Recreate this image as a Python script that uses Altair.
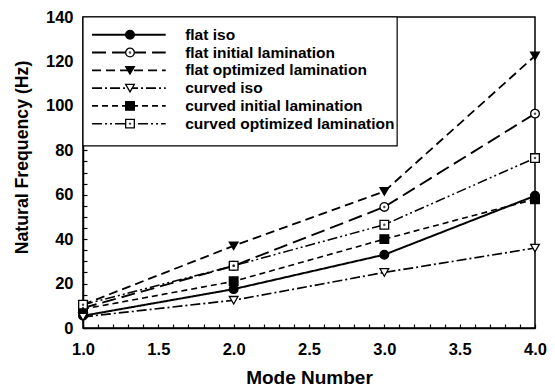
import altair as alt
import pandas as pd

# ---- data ----
modes = [1.0, 2.0, 3.0, 4.0]
series_names = [
    "flat iso",
    "flat initial lamination",
    "flat optimized lamination",
    "curved iso",
    "curved initial lamination",
    "curved optimized lamination",
]
flat_iso = [5.5, 17.5, 33.0, 59.5]
flat_initial = [9.0, 28.0, 54.5, 96.5]
flat_optimized = [10.5, 37.0, 61.5, 122.5]
curved_iso = [5.0, 12.5, 25.0, 36.0]
curved_initial = [8.5, 21.0, 40.0, 58.0]
curved_optimized = [10.5, 28.0, 46.5, 76.5]
y_ticks = [0, 20, 40, 60, 80, 100, 120, 140]
x_ticks = [1.0, 1.5, 2.0, 2.5, 3.0, 3.5, 4.0]
x_minor = [round(1.0 + 0.1 * i, 1) for i in range(31)]
y_minor = [5 * i for i in range(29)]

values = [flat_iso, flat_initial, flat_optimized, curved_iso, curved_initial, curved_optimized]

# ---- styles ----
dashes = [[1, 0], [14, 6], [9, 5], [10, 3, 2, 3], [6, 4], [10, 3, 2, 3, 2, 3]]
shapes = ["circle", "circle", "triangle-down", "triangle-down", "square", "square"]
fills = ["black", "white", "black", "white", "black", "white"]
dotted = [False, True, False, False, False, True]
widths = [2, 1.5, 2, 1.5, 1.5, 1.5]

rows = []
for name, vals in zip(series_names, values):
    for m, v in zip(modes, vals):
        rows.append({"series": name, "mode": m, "freq": v})
df = pd.DataFrame(rows)
df_dot = df[df["series"].isin([n for n, d in zip(series_names, dotted) if d])]

leg = pd.DataFrame({
    "series": series_names,
    "row": list(range(1, len(series_names) + 1)),
})
leg["x0"] = 0.02
leg["x1"] = 0.183
leg["xm"] = 0.104
leg["xt"] = 0.226
leg_dot = leg[leg["series"].isin([n for n, d in zip(series_names, dotted) if d])]
box = pd.DataFrame({"bx0": [0.0], "bx1": [0.695], "by0": [0.0], "by1": [7.25]})

FONT = "Liberation Sans"

dash_scale = alt.Scale(domain=series_names, range=dashes)
shape_scale = alt.Scale(domain=series_names, range=shapes)
fill_scale = alt.Scale(domain=series_names, range=fills)
width_scale = alt.Scale(domain=series_names, range=widths)

xscale = alt.Scale(domain=[1, 4], nice=False)
yscale = alt.Scale(domain=[0, 140], nice=False)
xs = alt.X("mode:Q", scale=xscale,
           axis=alt.Axis(values=x_ticks, format=".1f", title="Mode Number",
                         titlePadding=11, titleFontSize=19, labelPadding=13,
                         labelFlush=False, ticks=False, grid=False))
ys = alt.Y("freq:Q", scale=yscale,
           axis=alt.Axis(values=y_ticks, title="Natural Frequency (Hz)",
                         titlePadding=14, titleFontSize=17.7, titleY=140,
                         labelPadding=10, labelFlush=False, ticks=False, grid=False))

base = alt.Chart(df)
lines = base.mark_line(color="black").encode(
    x=xs, y=ys,
    strokeDash=alt.StrokeDash("series:N", scale=dash_scale, legend=None),
    strokeWidth=alt.StrokeWidth("series:N", scale=width_scale, legend=None),
    detail="series:N",
)
pts = base.mark_point(filled=False, stroke="black", strokeWidth=1.3, size=75, opacity=1).encode(
    x="mode:Q", y="freq:Q",
    shape=alt.Shape("series:N", scale=shape_scale, legend=None),
    fill=alt.Fill("series:N", scale=fill_scale, legend=None),
)
dots = alt.Chart(df_dot).mark_point(filled=True, color="black", size=6, shape="circle").encode(
    x="mode:Q", y="freq:Q",
)
# inward minor ticks as extra axes drawn along the inside of the frame
xtick_l = alt.Chart(pd.DataFrame({"mode": x_minor})).mark_point(opacity=0).encode(
    x=alt.X("mode:Q", scale=xscale,
            axis=alt.Axis(orient="top", offset=-311, values=x_minor, labels=False,
                          domain=False, ticks=True, tickSize=4, tickWidth=1.2,
                          tickColor="black", title=None, grid=False)),
)
ytick_l = alt.Chart(pd.DataFrame({"freq": y_minor})).mark_point(opacity=0).encode(
    y=alt.Y("freq:Q", scale=yscale,
            axis=alt.Axis(orient="right", offset=-452, values=y_minor, labels=False,
                          domain=False, ticks=True, tickSize=4, tickWidth=1.2,
                          tickColor="black", title=None, grid=False)),
)
main = alt.layer(lines, pts, dots)
ticks_layer = alt.layer(xtick_l, ytick_l)

lx = alt.Scale(domain=[0, 1], nice=False)
ly = alt.Scale(domain=[0, 17.5], reverse=True, nice=False)
lbox = alt.Chart(box).mark_rect(fill="white", stroke="black", strokeWidth=1.2).encode(
    x=alt.X("bx0:Q", scale=lx, axis=None), x2="bx1:Q",
    y=alt.Y("by0:Q", scale=ly, axis=None), y2="by1:Q",
)
llines = alt.Chart(leg).mark_rule(color="black").encode(
    x=alt.X("x0:Q", scale=lx, axis=None), x2="x1:Q",
    y=alt.Y("row:Q", scale=ly, axis=None),
    strokeDash=alt.StrokeDash("series:N", scale=dash_scale, legend=None),
    strokeWidth=alt.StrokeWidth("series:N", scale=width_scale, legend=None),
)
lpts = alt.Chart(leg).mark_point(filled=False, stroke="black", strokeWidth=1.3, size=75, opacity=1).encode(
    x=alt.X("xm:Q", scale=lx, axis=None),
    y=alt.Y("row:Q", scale=ly, axis=None),
    shape=alt.Shape("series:N", scale=shape_scale, legend=None),
    fill=alt.Fill("series:N", scale=fill_scale, legend=None),
)
ldots = alt.Chart(leg_dot).mark_point(filled=True, color="black", size=6, shape="circle").encode(
    x=alt.X("xm:Q", scale=lx, axis=None),
    y=alt.Y("row:Q", scale=ly, axis=None),
)
ltext = alt.Chart(leg).mark_text(align="left", baseline="middle", font=FONT,
                                 fontSize=15.5, fontWeight="bold", color="black").encode(
    x=alt.X("xt:Q", scale=lx, axis=None),
    y=alt.Y("row:Q", scale=ly, axis=None),
    text="series:N",
)
legend = alt.layer(lbox, llines, lpts, ldots, ltext)

chart = alt.layer(main, ticks_layer, legend).resolve_scale(
    x="independent", y="independent"
).properties(
    width=452, height=311,
    autosize=alt.AutoSizeParams(type="none"),
    padding={"left": 83, "top": 17, "right": 20, "bottom": 61},
    background="white",
).configure_view(
    stroke="black", strokeWidth=1.5
).configure_axis(
    labelFont=FONT, labelFontSize=16.5, labelFontWeight="bold", labelColor="black",
    titleFont=FONT, titleFontWeight="bold", titleColor="black",
    domainColor="black", domainWidth=1.5,
)

chart.save("out.html", embed_options={"renderer": "svg", "actions": False})
